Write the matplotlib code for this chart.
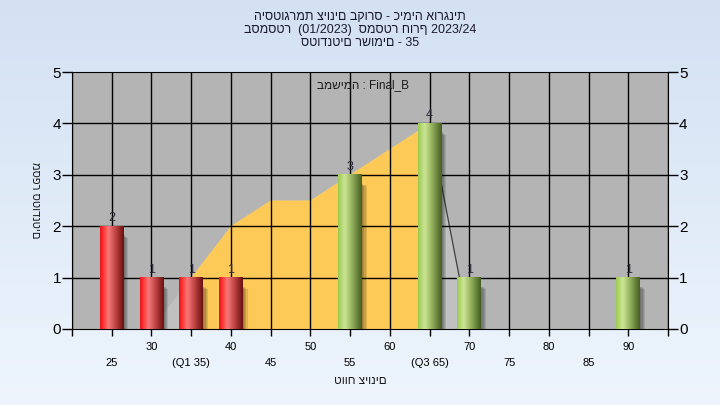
import numpy as np
import matplotlib.pyplot as plt
from matplotlib.colors import LinearSegmentedColormap
from matplotlib.patches import Rectangle

plt.rcParams['font.family'] = ['Liberation Sans', 'DejaVu Sans']

# histogram data
bins = [25, 30, 35, 40, 55, 65, 70, 90]
counts = [2, 1, 1, 1, 3, 4, 1, 1]
pass_grade = 55

# smoothed curve behind bars
curve_x = [30, 35, 40, 45, 50, 55, 60, 65, 70]
curve_y = [0, 1, 2, 2.5, 2.5, 3, 3.5, 4, 0]
q1, q3 = 35, 65

tick_pos = list(range(20, 100, 5))
tick_lab = ["", "\n25", "30", "\n(Q1 35)", "40", "\n45", "50", "\n55", "60",
            "\n(Q3 65)", "70", "\n75", "80", "\n85", "90", ""]

title = ("היסטוגרמת ציונים בקורס - כימיה אורגנית\n"
         "בסמסטר  (01/2023)  סמסטר חורף 2023/24\n"
         "סטודנטים רשומים - 35")

red_cm = LinearSegmentedColormap.from_list("r", [(0, "#e0141c"), (0.1, "#ff2a2a"),
                                                 (0.35, "#f67878"), (0.65, "#c04444"),
                                                 (1, "#6a1010")])
green_cm = LinearSegmentedColormap.from_list("g", [(0, "#9cca52"), (0.28, "#cde696"),
                                                   (0.55, "#9ab862"), (1, "#465e22")])

fig = plt.figure(figsize=(7.2, 4.05), dpi=100)

# background gradient
bg = fig.add_axes([0, 0, 1, 1], zorder=-10)
grad = np.linspace(0, 1, 256).reshape(-1, 1)
bg.imshow(grad, aspect="auto", extent=[0, 1, 0, 1],
          cmap=LinearSegmentedColormap.from_list("bg", ["#d3e1f3", "#eef5fd"]))
bg.axis("off")

ax = fig.add_axes([72 / 720, 76 / 405, 596 / 720, 257 / 405])
ax.set_facecolor("#b4b4b4")

# area under curve: gray outside quartiles, yellow inside
ax.fill(curve_x, curve_y, color="#c0c0c0", zorder=1, lw=0)
cx = np.array(curve_x)
cy = np.array(curve_y)
m = (cx >= q1) & (cx <= q3)
ax.fill(np.r_[cx[m], cx[m][-1], cx[m][0]], np.r_[cy[m], 0, 0],
        color="#fdca58", zorder=1.5, lw=0)
ax.plot(curve_x[-2:], curve_y[-2:], color="#404040", lw=0.9, zorder=1.6)

for x in tick_pos:
    ax.axvline(x, color="black", lw=1, zorder=2)
for y in range(1, 5):
    ax.axhline(y, color="black", lw=1, zorder=2)

w = 3
gvals = np.linspace(0, 1, 64).reshape(1, -1)
for x, h in zip(bins, counts):
    # soft drop shadow to the right
    for d in [0.6, 0.45, 0.3, 0.15]:
        ax.add_patch(Rectangle((x - w / 2 + d, -0.06), w, h - 0.1 - d * 0.1,
                               color="black", alpha=0.11, lw=0, zorder=3))
    cm = red_cm if x < pass_grade else green_cm
    ax.imshow(gvals, cmap=cm, aspect="auto", zorder=4,
              extent=[x - w / 2, x + w / 2, 0, h], interpolation="bilinear")
    ax.text(x, h + 0.04, str(h), ha="center", va="bottom", fontsize=9,
            color="#2a2a3a", zorder=5)

ax.set_xlim(20, 95)
ax.set_ylim(0, 5)
ax.set_xticks(tick_pos)
ax.set_xticklabels(tick_lab, fontsize=8, linespacing=1.75)
ax.set_yticks(range(6))
ax.tick_params(axis="y", labelsize=11, length=7, width=1, right=True,
               labelright=True, colors="black", pad=1)
ax.tick_params(axis="x", length=5, width=1, pad=4)
for s in ax.spines.values():
    s.set_color("black")

ax.text(0.488, 0.95, "במשימה : Final_B", transform=ax.transAxes,
        ha="center", va="center", fontsize=8.5, color="#1a1a1a")

fig.text(0.5, 1 - 11 / 405, title, ha="center", va="top", fontsize=9,
         color="#1a1a2e", linespacing=1.1)
fig.text(0.5, 1 - 381 / 405, "טווח ציונים", ha="center", va="center",
         fontsize=8.5, color="#1a1a1a")
fig.text(35 / 720, 1 - 200 / 405, "מספר סטודנטים", ha="center", va="center",
         rotation=270, fontsize=8, color="#1a1a1a")

fig.savefig("out.png", dpi=100)
